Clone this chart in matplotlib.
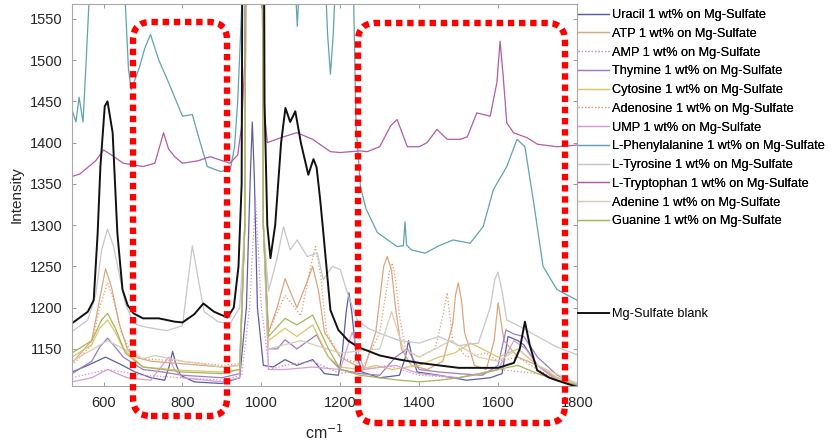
import matplotlib
matplotlib.use("Agg")
import matplotlib.pyplot as plt
from matplotlib.patches import FancyBboxPatch
from matplotlib.transforms import IdentityTransform

plt.rcParams['font.family'] = ['Liberation Sans', 'DejaVu Sans']

# ---------------- data (wavenumber cm-1 / intensity) ----------------
uracil_x = [520, 560, 605, 640, 680, 720, 755, 767, 775, 783, 795, 830, 900, 945, 962, 972, 977, 982, 990, 1005, 1030, 1060, 1090, 1130, 1160, 1195, 1205, 1215, 1222, 1229, 1240, 1255, 1300, 1350, 1365, 1373, 1382, 1395, 1450, 1520, 1580, 1610, 1625, 1650, 1665, 1700, 1750, 1800]
uracil_y = [1122, 1130, 1140, 1132, 1122, 1115, 1112, 1130, 1147, 1132, 1118, 1110, 1108, 1115, 1200, 1360, 1425, 1360, 1200, 1130, 1128, 1137, 1130, 1137, 1120, 1118, 1145, 1195, 1218, 1195, 1145, 1122, 1115, 1118, 1140, 1160, 1140, 1122, 1118, 1112, 1115, 1120, 1165, 1160, 1155, 1130, 1112, 1106]

atp_x = [520, 570, 590, 605, 620, 640, 660, 680, 720, 800, 900, 945, 958, 968, 995, 1005, 1018, 1040, 1060, 1090, 1115, 1130, 1145, 1160, 1200, 1260, 1290, 1300, 1310, 1319, 1330, 1340, 1355, 1380, 1420, 1460, 1485, 1492, 1499, 1507, 1515, 1540, 1570, 1590, 1600, 1615, 1650, 1700, 1750, 1800]
atp_y = [1133, 1160, 1210, 1247, 1225, 1180, 1150, 1140, 1135, 1132, 1128, 1130, 1300, 2600, 2600, 1300, 1170, 1200, 1235, 1200, 1230, 1250, 1220, 1170, 1140, 1125, 1170, 1210, 1250, 1262, 1245, 1200, 1150, 1130, 1125, 1135, 1180, 1215, 1230, 1210, 1170, 1130, 1125, 1160, 1206, 1160, 1140, 1130, 1115, 1108]

amp_x = [520, 610, 700, 800, 900, 950, 970, 985, 1000, 1020, 1060, 1130, 1200, 1320, 1400, 1500, 1600, 1700, 1800]
amp_y = [1115, 1125, 1118, 1115, 1112, 1118, 1200, 1334, 1200, 1125, 1130, 1135, 1120, 1130, 1118, 1115, 1125, 1120, 1106]

thymine_x = [520, 570, 590, 610, 630, 650, 700, 750, 800, 900, 945, 958, 968, 995, 1005, 1018, 1040, 1060, 1090, 1140, 1170, 1200, 1250, 1300, 1340, 1370, 1400, 1450, 1500, 1560, 1600, 1620, 1640, 1665, 1700, 1750, 1800]
thymine_y = [1120, 1135, 1152, 1163, 1152, 1140, 1125, 1122, 1118, 1115, 1120, 1300, 2600, 2600, 1300, 1150, 1150, 1161, 1150, 1167, 1140, 1125, 1120, 1118, 1140, 1150, 1125, 1122, 1120, 1118, 1130, 1173, 1168, 1165, 1140, 1118, 1108]

cytosine_x = [520, 570, 590, 610, 630, 650, 700, 800, 900, 945, 958, 968, 995, 1005, 1018, 1060, 1090, 1130, 1170, 1200, 1250, 1290, 1330, 1400, 1450, 1490, 1530, 1560, 1600, 1650, 1700, 1750, 1800]
cytosine_y = [1140, 1155, 1175, 1185, 1170, 1150, 1128, 1124, 1122, 1125, 1300, 2600, 2600, 1300, 1160, 1175, 1165, 1179, 1140, 1128, 1125, 1130, 1125, 1130, 1140, 1145, 1157, 1150, 1140, 1150, 1130, 1115, 1108]

adenosine_x = [520, 570, 590, 610, 625, 645, 670, 700, 800, 900, 945, 958, 968, 995, 1005, 1018, 1060, 1100, 1125, 1137, 1150, 1165, 1200, 1260, 1300, 1315, 1325, 1332, 1340, 1350, 1365, 1400, 1440, 1460, 1471, 1485, 1520, 1570, 1600, 1650, 1700, 1750, 1800]
adenosine_y = [1130, 1155, 1200, 1230, 1210, 1170, 1145, 1138, 1135, 1130, 1132, 1300, 2600, 2600, 1300, 1170, 1215, 1190, 1250, 1274, 1240, 1170, 1140, 1130, 1170, 1215, 1245, 1254, 1235, 1190, 1150, 1140, 1150, 1190, 1218, 1160, 1140, 1145, 1135, 1140, 1125, 1112, 1105]

ump_x = [520, 570, 610, 660, 720, 765, 780, 800, 900, 945, 958, 968, 995, 1005, 1018, 1060, 1130, 1200, 1230, 1260, 1340, 1400, 1500, 1600, 1640, 1670, 1700, 1750, 1800]
ump_y = [1110, 1115, 1125, 1115, 1112, 1140, 1125, 1115, 1110, 1115, 1300, 2600, 2600, 1300, 1125, 1125, 1128, 1125, 1170, 1125, 1130, 1120, 1115, 1125, 1160, 1150, 1130, 1112, 1106]

phe_x = [520, 530, 538, 548, 555, 562, 570, 650, 656, 663, 670, 690, 705, 719, 740, 762, 800, 825, 845, 863, 896, 921, 932, 940, 948, 955, 1083, 1091, 1099, 1160, 1168, 1175, 1182, 1190, 1232, 1240, 1251, 1265, 1294, 1344, 1360, 1364, 1368, 1380, 1415, 1450, 1486, 1529, 1562, 1588, 1622, 1648, 1668, 1689, 1714, 1749, 1800]
phe_y = [1440, 1425, 1455, 1425, 1490, 1560, 1620, 1620, 1560, 1490, 1464, 1490, 1515, 1531, 1500, 1476, 1432, 1434, 1400, 1371, 1365, 1367, 1395, 1450, 1540, 1620, 1620, 1541, 1620, 1620, 1530, 1483, 1530, 1620, 1620, 1420, 1347, 1320, 1291, 1274, 1275, 1304, 1276, 1270, 1266, 1275, 1282, 1278, 1298, 1343, 1371, 1404, 1395, 1331, 1250, 1222, 1209]

tyr_x = [520, 560, 580, 595, 610, 625, 640, 655, 676, 700, 760, 800, 812, 825, 838, 855, 890, 920, 945, 958, 968, 995, 1005, 1018, 1040, 1056, 1073, 1091, 1116, 1142, 1157, 1180, 1200, 1218, 1243, 1270, 1300, 1350, 1400, 1450, 1500, 1550, 1580, 1592, 1600, 1610, 1622, 1656, 1700, 1750, 1800]
tyr_y = [1171, 1185, 1215, 1270, 1295, 1275, 1240, 1205, 1181, 1177, 1172, 1178, 1225, 1275, 1240, 1195, 1183, 1180, 1200, 1300, 2600, 2600, 1300, 1220, 1260, 1298, 1270, 1282, 1262, 1266, 1234, 1250, 1246, 1218, 1185, 1175, 1169, 1160, 1157, 1165, 1154, 1157, 1200, 1235, 1243, 1220, 1185, 1177, 1165, 1152, 1143]

trp_x = [520, 540, 560, 580, 600, 620, 650, 700, 730, 745, 752, 765, 780, 800, 840, 870, 920, 940, 950, 958, 968, 995, 1005, 1015, 1056, 1090, 1130, 1175, 1200, 1250, 1268, 1300, 1327, 1344, 1370, 1400, 1420, 1445, 1471, 1504, 1522, 1546, 1580, 1597, 1605, 1613, 1622, 1639, 1673, 1700, 1750, 1800]
trp_y = [1359, 1362, 1370, 1378, 1391, 1385, 1375, 1371, 1375, 1400, 1412, 1392, 1383, 1375, 1378, 1383, 1375, 1385, 1420, 1500, 2600, 2600, 1450, 1400, 1407, 1412, 1404, 1389, 1388, 1390, 1389, 1395, 1420, 1428, 1395, 1395, 1400, 1416, 1404, 1404, 1407, 1436, 1432, 1473, 1523, 1480, 1424, 1412, 1406, 1398, 1395, 1397]

adenine_x = [520, 610, 700, 730, 800, 900, 945, 958, 968, 995, 1005, 1018, 1100, 1200, 1300, 1330, 1360, 1400, 1480, 1550, 1600, 1650, 1700, 1800]
adenine_y = [1135, 1160, 1138, 1142, 1135, 1128, 1130, 1300, 2600, 2600, 1300, 1150, 1160, 1145, 1150, 1195, 1150, 1140, 1160, 1140, 1135, 1150, 1130, 1108]

guanine_x = [520, 570, 595, 610, 630, 655, 700, 800, 900, 945, 958, 968, 995, 1005, 1018, 1060, 1090, 1130, 1170, 1200, 1250, 1300, 1350, 1400, 1450, 1500, 1560, 1600, 1650, 1700, 1750, 1800]
guanine_y = [1145, 1160, 1185, 1193, 1175, 1145, 1128, 1122, 1120, 1125, 1300, 2600, 2600, 1300, 1165, 1187, 1179, 1191, 1150, 1125, 1118, 1115, 1112, 1110, 1112, 1115, 1120, 1125, 1130, 1120, 1112, 1106]

blank_x = [520, 560, 575, 585, 592, 603, 610, 623, 635, 648, 661, 676, 700, 740, 780, 800, 830, 853, 880, 914, 930, 942, 950, 958, 1000, 1008, 1015, 1023, 1035, 1050, 1061, 1073, 1086, 1100, 1119, 1132, 1140, 1149, 1157, 1175, 1195, 1220, 1246, 1300, 1350, 1400, 1450, 1500, 1550, 1600, 1640, 1655, 1668, 1680, 1699, 1730, 1760, 1800]
blank_y = [1181, 1195, 1209, 1290, 1371, 1444, 1450, 1412, 1290, 1222, 1203, 1193, 1187, 1187, 1183, 1182, 1192, 1205, 1195, 1188, 1200, 1250, 1350, 2600, 2600, 1450, 1300, 1260, 1300, 1400, 1442, 1425, 1438, 1400, 1361, 1380, 1370, 1331, 1291, 1197, 1173, 1160, 1152, 1142, 1137, 1133, 1130, 1127, 1127, 1127, 1133, 1150, 1183, 1155, 1124, 1115, 1110, 1104]

labels = ["Uracil 1 wt% on Mg-Sulfate", "ATP 1 wt% on Mg-Sulfate", "AMP 1 wt% on Mg-Sulfate",
          "Thymine 1 wt% on Mg-Sulfate", "Cytosine 1 wt% on Mg-Sulfate", "Adenosine 1 wt% on Mg-Sulfate",
          "UMP 1 wt% on Mg-Sulfate", "L-Phenylalanine 1 wt% on Mg-Sulfate", "L-Tyrosine 1 wt% on Mg-Sulfate",
          "L-Tryptophan 1 wt% on Mg-Sulfate", "Adenine 1 wt% on Mg-Sulfate", "Guanine 1 wt% on Mg-Sulfate"]
blank_label = "Mg-Sulfate blank"

xticks = [600, 800, 1000, 1200, 1400, 1600, 1800]
yticks = [1150, 1200, 1250, 1300, 1350, 1400, 1450, 1500, 1550]

series = [
    (uracil_x, uracil_y, '#5b5ea6', '-'),
    (atp_x, atp_y, '#dfa57c', '-'),
    (amp_x, amp_y, '#cc8fcc', ':'),
    (thymine_x, thymine_y, '#9a7dc4', '-'),
    (cytosine_x, cytosine_y, '#d9c76a', '-'),
    (adenosine_x, adenosine_y, '#e39a6e', ':'),
    (ump_x, ump_y, '#d79ed3', '-'),
    (phe_x, phe_y, '#5fa3b3', '-'),
    (tyr_x, tyr_y, '#c6c6cc', '-'),
    (trp_x, trp_y, '#b35aa8', '-'),
    (adenine_x, adenine_y, '#d5ceb5', '-'),
    (guanine_x, guanine_y, '#a9b45a', '-'),
]

fig = plt.figure(figsize=(8.33, 4.43), dpi=100)
ax = fig.add_axes([72 / 833, 1 - 386 / 443, 505 / 833, 382 / 443])

handles = []
for (xs, ys, c, ls), lab in zip(series, labels):
    h, = ax.plot(xs, ys, color=c, lw=0.9, ls=ls, label=lab)
    handles.append(h)
hb, = ax.plot(blank_x, blank_y, color='#111111', lw=1.4, label=blank_label)

ax.set_xlim(520, 1800)
ax.set_ylim(1105, 1568)
ax.set_xticks(xticks)
ax.set_yticks(yticks)
ax.tick_params(direction='in', top=True, right=True, length=3, width=0.6,
               color='#888888', labelsize=10.5, labelcolor='#262626', pad=7)
for s in ax.spines.values():
    s.set_color('#a8a8a8')
    s.set_linewidth(0.8)
ax.set_ylabel('Intensity', fontsize=11, color='#262626', labelpad=4)
ax.set_xlabel('cm$^{-1}$', fontsize=11.5, color='#262626', labelpad=10)

leg_kw = dict(loc='upper left', frameon=False, fontsize=9.2, handlelength=2.4,
              handletextpad=0.25, borderpad=0, borderaxespad=0)
leg1 = fig.legend(handles=handles, bbox_to_anchor=(578 / 833, 1 - 9 / 443),
                  labelspacing=0.53, **leg_kw)
fig.legend(handles=[hb], bbox_to_anchor=(578 / 833, 1 - 308 / 443), **leg_kw)
fig.add_artist(leg1)

# red dotted rounded annotation boxes (pixel coordinates, origin bottom-left)
H = 443
for (x0, y0, x1, y1) in [(133, 22, 227, 416), (358, 23, 565, 423)]:
    p = FancyBboxPatch((x0, H - y1), x1 - x0, y1 - y0,
                       boxstyle="round,pad=0,rounding_size=18",
                       transform=IdentityTransform(), fill=False,
                       edgecolor='#ff0000', linewidth=4.6,
                       linestyle=(0, (1.0, 0.75)), capstyle='butt', zorder=10)
    fig.add_artist(p)

fig.savefig('out.png', dpi=100)
